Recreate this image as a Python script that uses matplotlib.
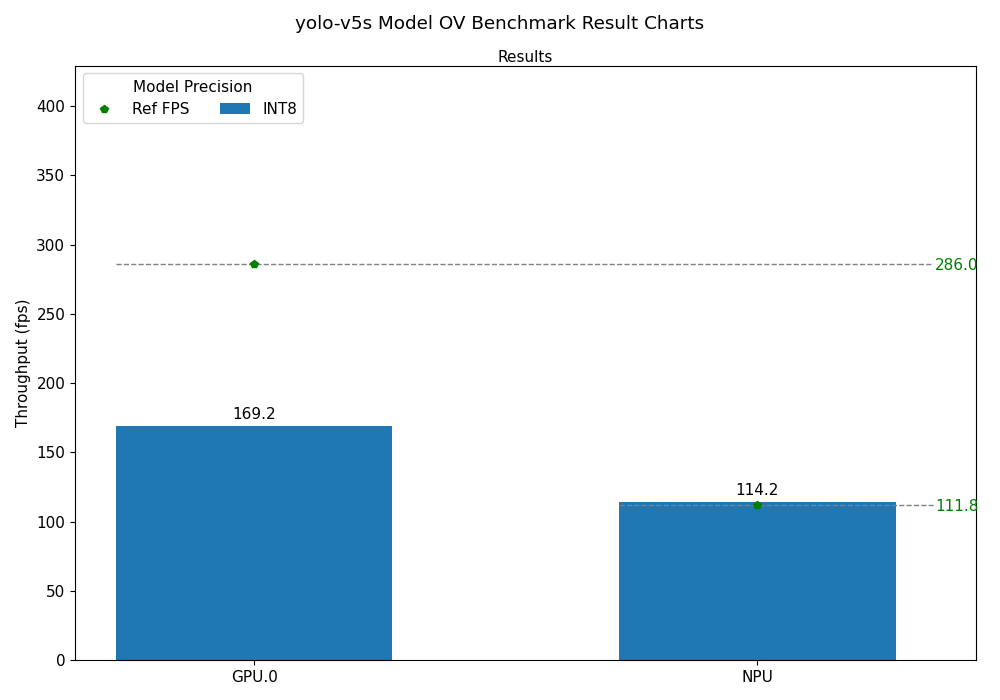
import matplotlib
matplotlib.use("Agg")
import matplotlib.pyplot as plt
import numpy as np

devices = ["GPU.0", "NPU"]
int8_fps = [169.2, 114.2]
ref_fps = [286.0, 111.8]

bar_width = 0.55
line_end = 1.35

fig, ax = plt.subplots(figsize=(10, 7), dpi=100)
fig.subplots_adjust(left=0.075, right=0.976, bottom=0.057, top=0.906)
fig.suptitle("yolo-v5s Model OV Benchmark Result Charts", fontsize=13.2, y=0.979)

x = np.arange(len(devices))
bars = ax.bar(x, int8_fps, bar_width, label="INT8", color="#1f77b4")
ax.bar_label(bars, labels=["%.1f" % v for v in int8_fps], padding=3, fontsize=11)

for i, ref in enumerate(ref_fps):
    ax.hlines(ref, x[i] - bar_width / 2, line_end, colors="gray",
              linestyles="dashed", linewidth=1, zorder=3)
    ax.text(line_end + 0.004, ref, "%.1f" % ref, color="green",
            va="center_baseline", ha="left", fontsize=11)
ax.plot(x, ref_fps, "p", color="green", markersize=6, label="Ref FPS", zorder=4)

ax.set_xticks(x)
ax.set_xticklabels(devices, fontsize=11)
ax.tick_params(axis="y", labelsize=11)
ax.set_xlim(-0.356, 1.435)
ax.set_ylim(0, max(ref_fps) * 1.5)
ax.set_ylabel("Throughput (fps)", fontsize=11)
ax.set_title("Results", fontsize=11, pad=3)

handles, labels = ax.get_legend_handles_labels()
order = [labels.index("Ref FPS"), labels.index("INT8")]
ax.legend([handles[i] for i in order], [labels[i] for i in order],
          title="Model Precision", ncol=2, loc="upper left",
          fontsize=11, title_fontsize=11)

plt.savefig("out.png")
